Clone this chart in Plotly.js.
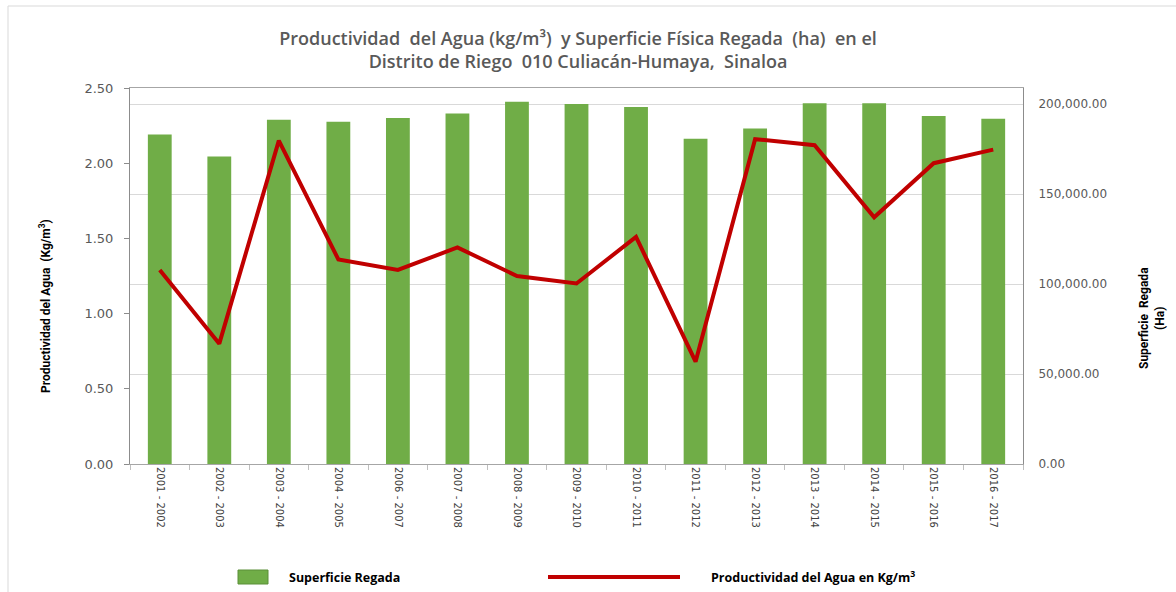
<!DOCTYPE html>
<html>
<head>
<meta charset="utf-8">
<script src="https://cdn.plot.ly/plotly-3.0.1.min.js"></script>
<style>
html,body{margin:0;padding:0;background:#fff;}
#chart{width:1176px;height:592px;}
</style>
</head>
<body>
<div id="chart"></div>
<script>
const categories = ["2001 - 2002","2002 - 2003","2003 - 2004","2004 - 2005","2006 - 2007","2007 - 2008","2008 - 2009","2009 - 2010","2010 - 2011","2011 - 2012","2012 - 2013","2013 - 2014","2014 - 2015","2015 - 2016","2016 - 2017"];
const superficieRegada = [183000, 170800, 191200, 190200, 192200, 194700, 201300, 200000, 198300, 180700, 186400, 200400, 200400, 193400, 191800];
const productividadAgua = [1.29, 0.80, 2.15, 1.36, 1.29, 1.44, 1.25, 1.20, 1.51, 0.68, 2.16, 2.12, 1.64, 2.00, 2.09];
const rightTicks = [0, 50000, 100000, 150000, 200000];

const traces = [
  {
    type: 'bar', x: categories, y: superficieRegada, name: 'Superficie Regada',
    yaxis: 'y', marker: {color: '#70ad47'}, showlegend: false, hoverinfo: 'x+y'
  },
  {
    type: 'scatter', mode: 'lines', x: categories, y: productividadAgua,
    name: 'Productividad del Agua en Kg/m³', yaxis: 'y2',
    line: {color: '#c00000', width: 4}, showlegend: false
  }
];

const L = 130, R = 1023, T = 88, B = 464;
const px = v => (v - L) / (R - L);
const py = v => (B - v) / (B - T);
const labelFont = {family: 'Liberation Sans Narrow, Roboto, sans-serif', size: 12, color: '#000000', weight: 'bold'};
const legendFont = {family: 'Open Sans, sans-serif', size: 12.5, color: '#000000', weight: 'bold'};

const layout = {
  width: 1176, height: 592,
  margin: {l: L, r: 1176 - R, t: T, b: 592 - B},
  paper_bgcolor: '#ffffff', plot_bgcolor: '#ffffff',
  showlegend: false,
  bargap: 0.6,
  title: {
    text: 'Productividad  del Agua (kg/m³)  y Superficie Física Regada  (ha)  en el<br>Distrito de Riego  010 Culiacán-Humaya,  Sinaloa',
    font: {family: 'Open Sans, sans-serif', size: 18, color: '#595959', weight: 600},
    x: (578 / 1176), xref: 'container', xanchor: 'center',
    y: 1 - 45 / 592, yref: 'container', yanchor: 'middle'
  },
  xaxis: {
    type: 'category', tickangle: 90, ticks: 'outside', tickson: 'boundaries',
    ticklen: 5, tickcolor: '#bfbfbf', showline: true, linecolor: '#a6a6a6', linewidth: 1,
    mirror: true, showgrid: false,
    tickfont: {family: 'DejaVu Sans, sans-serif', size: 10, color: '#404040'}
  },
  yaxis: {
    side: 'right', range: [0, 208889], tickvals: rightTicks, tickformat: ',.2f',
    showgrid: true, gridcolor: '#d9d9d9', gridwidth: 1, zeroline: false,
    showline: true, linecolor: '#8c8c8c', ticks: '', ticklabelstandoff: 12,
    tickfont: {family: 'DejaVu Sans, sans-serif', size: 12, color: '#595959'}
  },
  yaxis2: {
    overlaying: 'y', side: 'left', range: [0, 2.5], dtick: 0.5, tickformat: '.2f',
    showgrid: false, zeroline: false, showline: true, linecolor: '#8c8c8c',
    ticks: 'outside', ticklen: 5, tickcolor: '#8c8c8c', ticklabelstandoff: 8,
    tickfont: {family: 'DejaVu Sans, sans-serif', size: 13, color: '#595959'}
  },
  shapes: [
    {type: 'rect', xref: 'paper', yref: 'paper', x0: px(8), x1: px(1182), y0: py(598), y1: py(6),
     line: {color: '#d9d9d9', width: 1}, fillcolor: 'rgba(0,0,0,0)', layer: 'below'},
    {type: 'rect', xref: 'paper', yref: 'paper', x0: px(238), x1: px(268), y0: py(584), y1: py(570),
     line: {color: '#5b8f38', width: 1}, fillcolor: '#70ad47'},
    {type: 'line', xref: 'paper', yref: 'paper', x0: px(548), x1: px(680), y0: py(577), y1: py(577),
     line: {color: '#c00000', width: 4}}
  ],
  annotations: [
    {xref: 'paper', yref: 'paper', x: px(45), y: py(306), xanchor: 'center', yanchor: 'middle', showarrow: false,
     textangle: -90, text: 'Productividad del Agua  (Kg/m<sup>3</sup>)', font: labelFont},
    {xref: 'paper', yref: 'paper', x: px(1152), y: py(318), xanchor: 'center', yanchor: 'middle', showarrow: false,
     textangle: -90, text: 'Superficie  Regada<br>(Ha)', font: labelFont},
    {xref: 'paper', yref: 'paper', x: px(287), y: py(577), xanchor: 'left', yanchor: 'middle', showarrow: false,
     text: 'Superficie Regada', font: legendFont},
    {xref: 'paper', yref: 'paper', x: px(709), y: py(577), xanchor: 'left', yanchor: 'middle', showarrow: false,
     text: 'Productividad del Agua en Kg/m<sup>3</sup>', font: legendFont}
  ]
};

Plotly.newPlot('chart', traces, layout, {displayModeBar: false, staticPlot: true});
</script>
</body>
</html>
